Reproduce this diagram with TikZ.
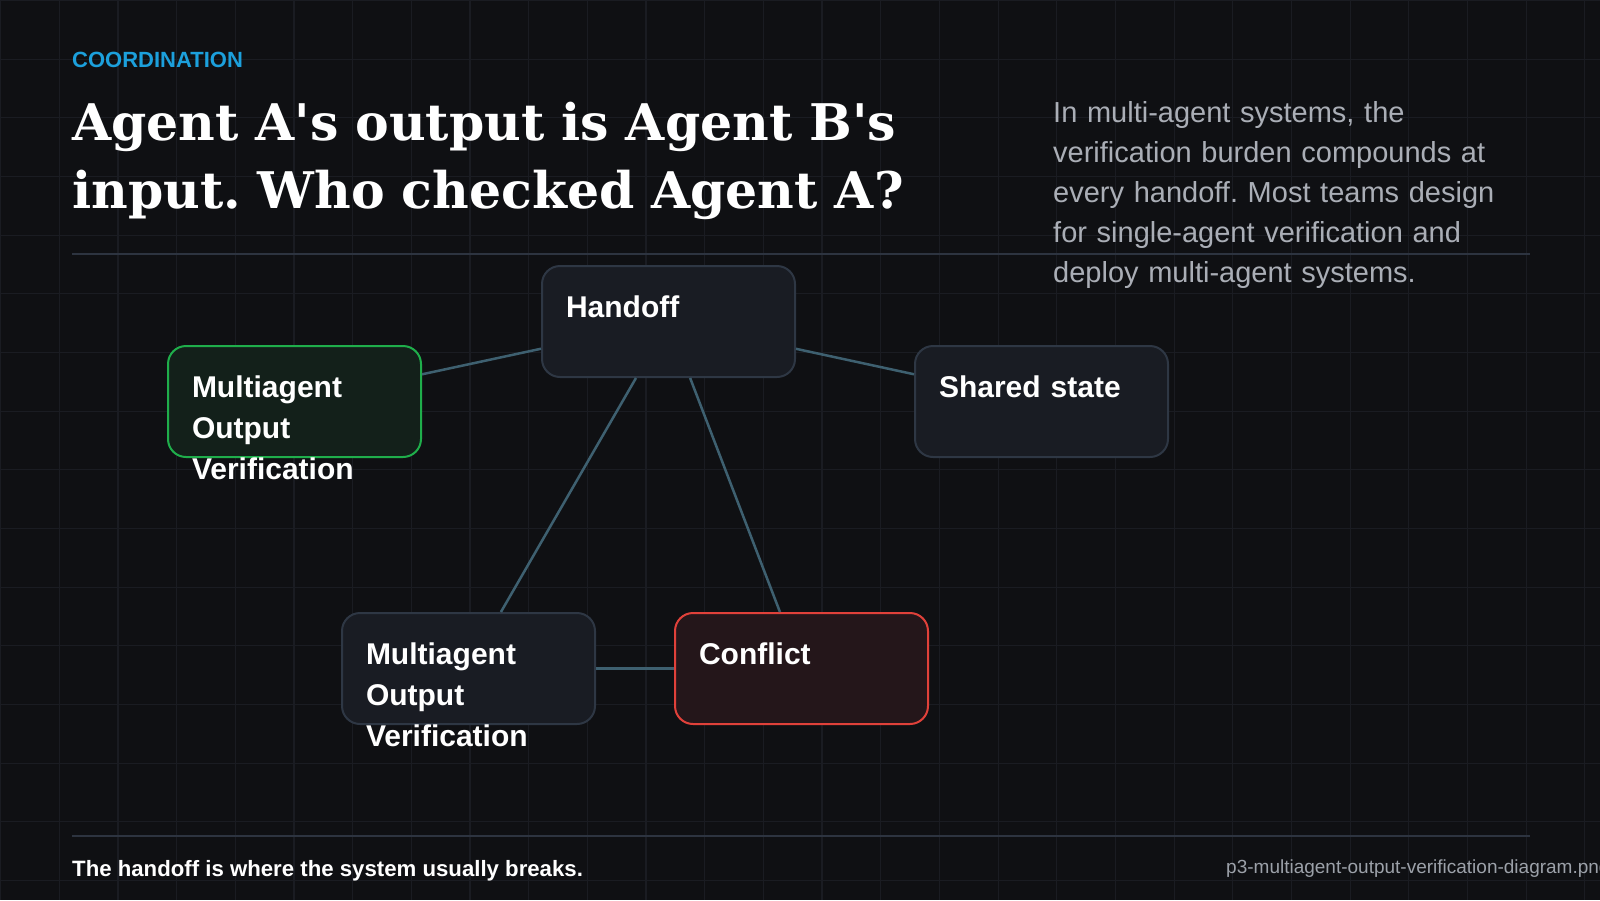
\documentclass[tikz,border=0pt]{standalone}
\usepackage{fontspec}
\setmainfont{Liberation Sans}
\newfontfamily\titlefont{DejaVu Serif}
\frenchspacing

\definecolor{bgcol}{HTML}{0F1013}
\definecolor{gridcol}{HTML}{1A1C22}
\definecolor{rulecol}{HTML}{2D3440}
\definecolor{accent}{HTML}{1CA0DC}
\definecolor{para}{HTML}{AAAEB6}
\definecolor{muted}{HTML}{9CA1A9}
\definecolor{boxfill}{HTML}{191C23}
\definecolor{boxline}{HTML}{2E3744}
\definecolor{okfill}{HTML}{13201A}
\definecolor{okline}{HTML}{1FAE4B}
\definecolor{badfill}{HTML}{24161A}
\definecolor{badline}{HTML}{E0413A}
\definecolor{linkcol}{HTML}{3E6070}

\begin{document}
\begin{tikzpicture}[x=1pt,y=-1pt,
    gridline/.style={draw=gridcol, line width=1.2pt},
    rule/.style={draw=rulecol, line width=2pt},
    box/.style={draw=boxline, fill=boxfill, line width=2pt, rounded corners=18pt,
      anchor=north west, text width=205pt, inner xsep=24pt, inner ysep=0pt,
      text height=51pt, text depth=60pt, align=left, text=white,
      font=\fontsize{30}{41}\selectfont\bfseries},
    okbox/.style={box, draw=okline, fill=okfill},
    badbox/.style={box, draw=badline, fill=badfill},
    link/.style={draw=linkcol, line width=2.5pt}]

    % Page and background
    \useasboundingbox (0,0) rectangle (1600,900);
    \clip (0,0) rectangle (1600,900);
    \fill[bgcol] (0,0) rectangle (1600,900);

    % Draw the grid
    \foreach \i in {0,...,27}
    \draw[gridline] ({\i*58.67+0.7},0) -- ({\i*58.67+0.7},900);
    \foreach \j in {0,...,15}
    \draw[gridline] (0,{\j*58.67+0.5}) -- (1600,{\j*58.67+0.5});

    % Rules
    \draw[rule] (72,254) -- (1530,254);
    \draw[rule] (72,836) -- (1530,836);

    % Header
    \node[anchor=base west, inner sep=0, text=accent, font=\fontsize{22}{26}\selectfont\bfseries] (kicker) at (72,67) {COORDINATION};
    \node[anchor=base west, inner sep=0, text width=950pt, align=left, text=white,
      font=\titlefont\fontsize{50.5}{68}\selectfont\bfseries] (title) at (72,140)
      {Agent A\textquotesingle s output is Agent B\textquotesingle s\\input. Who checked Agent A?};
    \node[anchor=base west, inner sep=0, text width=520pt, align=left, text=para,
      font=\fontsize{29}{40}\selectfont] (blurb) at (1053,122)
      {In multi-agent systems, the\\verification burden compounds at\\every handoff. Most teams design\\for single-agent verification and\\deploy multi-agent systems.};

    % Nodes
    \node[box] (handoff) at (541,265) {Handoff};
    \node[okbox] (mav1) at (167,345) {Multiagent\\Output\\Verification};
    \node[box] (shared) at (914,345) {Shared state};
    \node[box] (mav2) at (341,612) {Multiagent\\Output\\Verification};
    \node[badbox] (conflict) at (674,612) {Conflict};

    % Links
    \draw[link] (mav1) -- (handoff);
    \draw[link] (handoff) -- (shared);
    \draw[link] (handoff) -- (mav2);
    \draw[link] (handoff) -- (conflict);
    \draw[link] (mav2) -- (conflict);

    % Footer
    \node[anchor=base west, inner sep=0, text=white, font=\fontsize{22.2}{26}\selectfont\bfseries] (note) at (72,876)
      {The handoff is where the system usually breaks.};
    \node[anchor=base west, inner sep=0, text=muted, font=\fontsize{19}{22}\selectfont] (file) at (1226,873)
      {p3-multiagent-output-verification-diagram.png};

\end{tikzpicture}
\end{document}
